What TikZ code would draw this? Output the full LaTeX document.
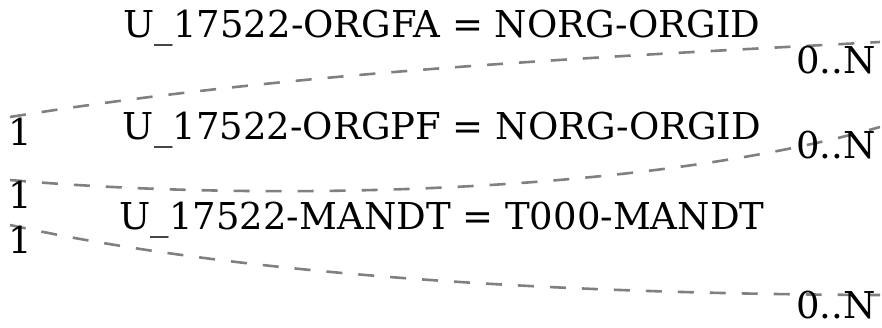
\documentclass[tikz,border=0pt]{standalone}
\usepackage{fontspec}
\setmainfont{DejaVu Serif}
\tikzset{
  relation/.style={draw=gray, dashed, dash pattern=on 16pt off 16pt, line width=2.6pt},
  lbl/.style={inner sep=0pt, font=\fontsize{37}{40}\selectfont},
}
\begin{document}
\begin{tikzpicture}[x=1pt, y=-1pt]
		\useasboundingbox (0,0) rectangle (882,327);

		% Define the end points
		\coordinate (orgfaL) at (10,117);
		\coordinate (orgfaR) at (880,42);
		\coordinate (orgpfL) at (10,180);
		\coordinate (orgpfR) at (880,127);
		\coordinate (mandtL) at (10,225);
		\coordinate (mandtR) at (880,295);

		% Define the relations
		\draw[relation] (orgfaL) .. controls (300,70) and (620,56) .. (orgfaR);
		\draw[relation] (orgpfL) .. controls (260,202) and (640,195) .. (orgpfR);
		\draw[relation] (mandtL) .. controls (260,280) and (600,294) .. (mandtR);

		% Labels
		\node[lbl] (orgfa) at (442,28) {U\_17522-ORGFA = NORG-ORGID};
		\node[lbl] (orgpf) at (442,130) {U\_17522-ORGPF = NORG-ORGID};
		\node[lbl] (mandt) at (442,220) {U\_17522-MANDT = T000-MANDT};

		% Cardinalities
		\node[lbl] (orgfaC1) at (20,132) {1};
		\node[lbl] (orgpfC1) at (20,195) {1};
		\node[lbl] (mandtC1) at (20,240) {1};
		\node[lbl] (orgfaCN) at (836,60) {0..N};
		\node[lbl] (orgpfCN) at (836,145) {0..N};
		\node[lbl] (mandtCN) at (836,305) {0..N};
	\end{tikzpicture}
\end{document}
